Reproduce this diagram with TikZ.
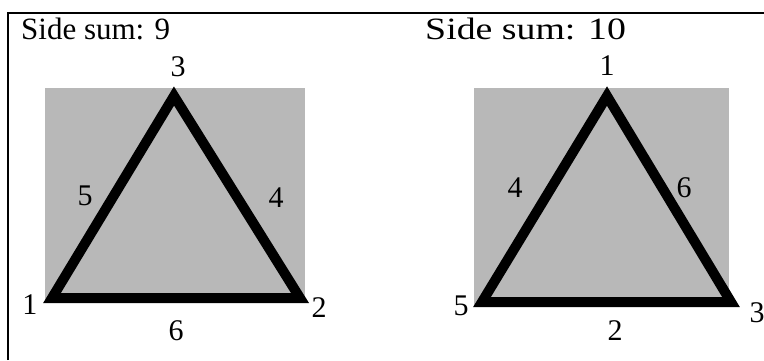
\documentclass[tikz,border=0pt]{standalone}
\usepackage{fontspec}
\setmainfont{Liberation Serif}
\usetikzlibrary{positioning}

\tikzset{
  panel/.style={fill=black!28, draw=none},
  tri/.style={line width=10pt, line join=miter, draw=black},
  lbl/.style={inner sep=0pt, font=\fontsize{30}{34}\selectfont},
  head/.style={inner sep=0pt, anchor=west, font=\fontsize{31}{36}\selectfont},
}

\begin{document}
\begin{tikzpicture}[x=1pt, y=-1pt]
  \useasboundingbox (0,0) rectangle (764,360);
  % 枠
  \draw[line width=1.6pt] (8,360) -- (8,13) -- (764,13);

  % 左側：Side sum 9
  \node[head] (sumA) at (21,29) {Side sum: 9};
  \fill[panel] (45,88) rectangle (305,303);
  \coordinate (a1) at (52,298);
  \coordinate (a2) at (300,298);
  \coordinate (a3) at (174,96);
  \draw[tri] (a1) -- (a2) -- (a3) -- cycle;
  \node[lbl] (va3) at (178,67) {3};
  \node[lbl] (va1) at (30,305) {1};
  \node[lbl] (va2) at (319,308) {2};
  \node[lbl] (ea5) at (85,196) {5};
  \node[lbl] (ea4) at (276,198) {4};
  \node[lbl] (ea6) at (176,331) {6};

  % 右側：Side sum 10
  \node[head, xscale=1.22] (sumB) at (425,29) {Side sum: 10};
  \fill[panel] (474,88) rectangle (729,305);
  \coordinate (b5) at (482,302);
  \coordinate (b3) at (731,302);
  \coordinate (b1) at (607,96);
  \draw[tri] (b5) -- (b3) -- (b1) -- cycle;
  \node[lbl] (vb1) at (607,66) {1};
  \node[lbl] (vb5) at (461,306) {5};
  \node[lbl] (vb3) at (757,313) {3};
  \node[lbl] (eb4) at (515,188) {4};
  \node[lbl] (eb6) at (684,188) {6};
  \node[lbl] (eb2) at (615,331) {2};
\end{tikzpicture}
\end{document}
